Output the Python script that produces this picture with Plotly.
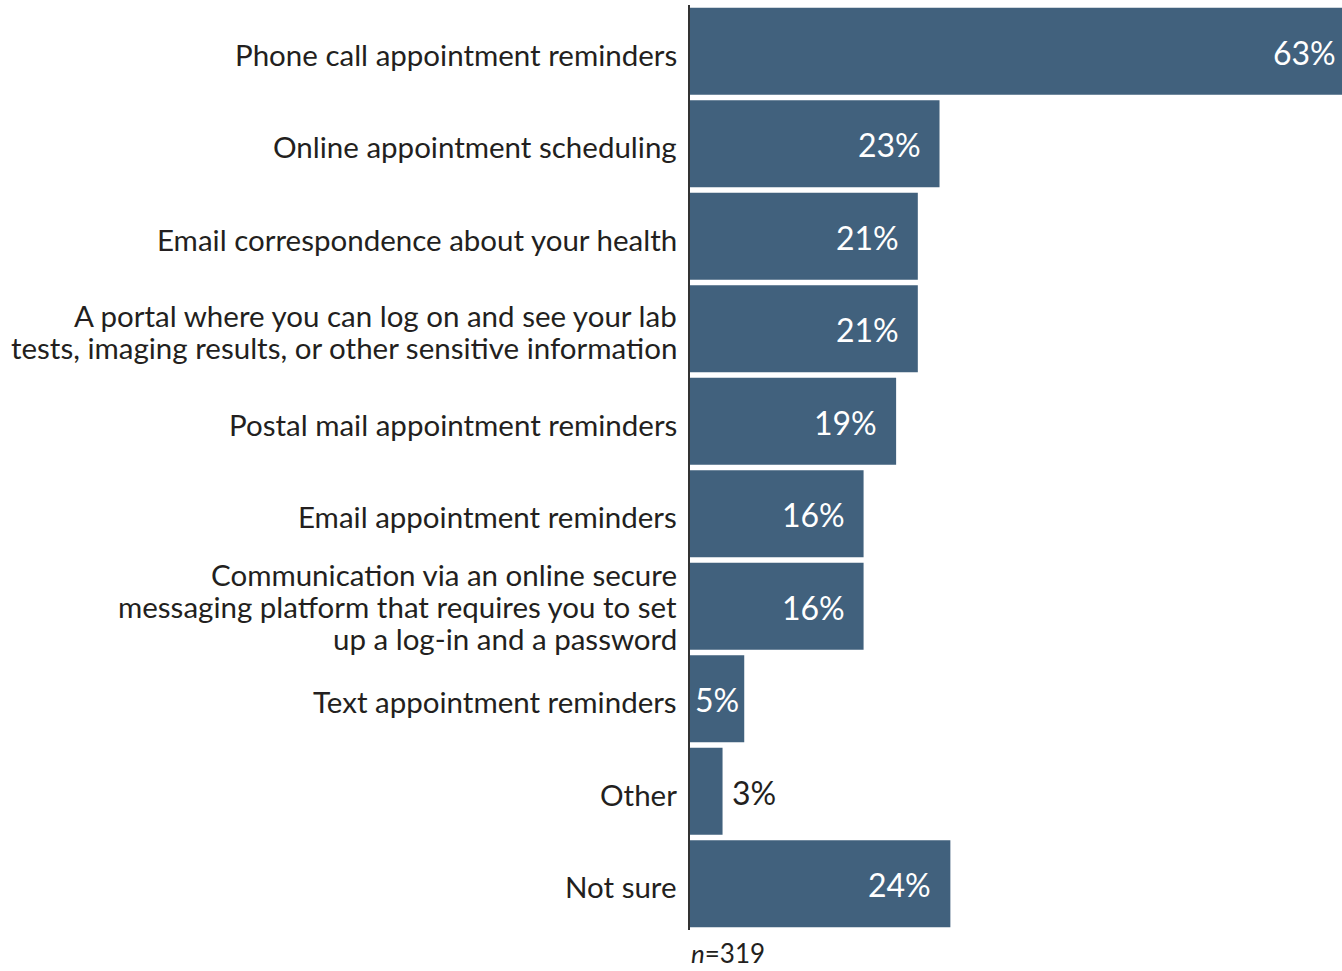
import plotly.graph_objects as go

# Survey responses, listed top to bottom
categories = [
    "Phone call appointment reminders",
    "Online appointment scheduling",
    "Email correspondence about your health",
    "A portal where you can log on and see your lab<br>tests, imaging results, or other sensitive information",
    "Postal mail appointment reminders",
    "Email appointment reminders",
    "Communication via an online secure<br>messaging platform that requires you to set<br>up a log-in and a password",
    "Text appointment reminders",
    "Other",
    "Not sure",
]
values = [63, 23, 21, 21, 19, 16, 16, 5, 3, 24]
sample_note = "<i>n</i>=319"

BAR_COLOR = "#41617d"
TEXT_COLOR = "#231f20"
FONT = "Lato, 'Open Sans', sans-serif"
XMAX = 60.1  # the longest bar runs past the right edge of the plot
LINE_GAP = 32  # px between lines of a wrapped category label

fig = go.Figure(
    go.Bar(
        x=values,
        y=categories,
        orientation="h",
        marker=dict(color=BAR_COLOR, line=dict(width=0)),
        hoverinfo="skip",
        cliponaxis=True,
    )
)

annotations = []

# category labels, right-aligned against the axis, one annotation per line
for cat in categories:
    lines = cat.split("<br>")
    n = len(lines)
    base = -3 if n < 3 else 0
    for i, line in enumerate(lines):
        annotations.append(dict(
            x=0, xref="paper", y=cat, yref="y", text=line, showarrow=False,
            xanchor="right", yanchor="middle", xshift=-11,
            yshift=base - (i - (n - 1) / 2) * LINE_GAP,
            font=dict(size=29.5, color=TEXT_COLOR, family=FONT)))

# value labels: inside the bar end, or just past it when the bar is too short
for cat, v in zip(categories, values):
    xv = min(v, XMAX)
    if v < 4:
        annotations.append(dict(x=xv, y=cat, text=f"{v}%", showarrow=False,
                                xanchor="left", xshift=7, yshift=-1,
                                font=dict(size=32, color=TEXT_COLOR, family=FONT)))
    else:
        shift = -4 if v > XMAX else (-3 if v < 10 else -17)
        annotations.append(dict(x=xv, y=cat, text=f"{v}%", showarrow=False,
                                xanchor="right", xshift=shift, yshift=-1,
                                font=dict(size=32, color="white", family=FONT)))

# sample size note sitting at the very bottom edge
annotations.append(dict(x=0, y=0, xref="paper", yref="paper", text=sample_note,
                        showarrow=False, xanchor="left", yanchor="bottom", yshift=-40,
                        borderpad=0,
                        font=dict(size=26, color=TEXT_COLOR, family=FONT)))

fig.update_layout(
    width=1342,
    height=971,
    margin=dict(l=690, r=0, t=5, b=41),
    paper_bgcolor="white",
    plot_bgcolor="white",
    bargap=0.06,
    showlegend=False,
    font=dict(family=FONT, color=TEXT_COLOR),
    annotations=annotations,
    xaxis=dict(range=[0, XMAX], visible=False, fixedrange=True),
    yaxis=dict(
        autorange="reversed",
        showline=True,
        linecolor="#333333",
        linewidth=2,
        showgrid=False,
        zeroline=False,
        ticks="",
        showticklabels=False,
        fixedrange=True,
    ),
)

fig.write_html("out.html", config={"displayModeBar": False})
